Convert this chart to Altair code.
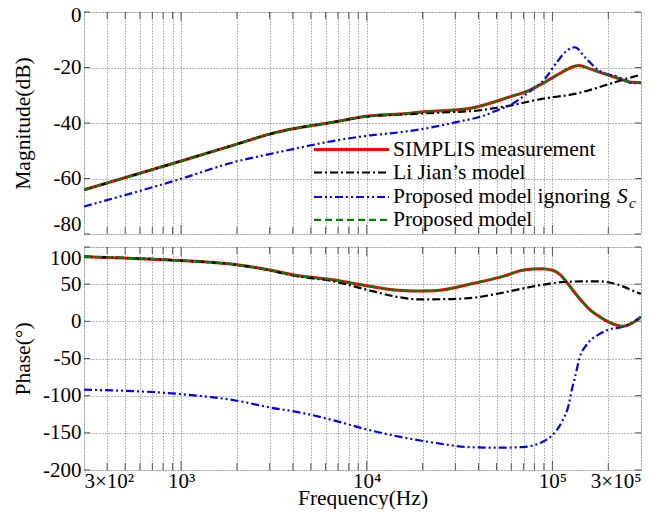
import altair as alt
import pandas as pd

# ---------------- data ----------------
legend_labels = ["SIMPLIS measurement", "Li Jian\u2019s model", "Proposed model ignoring", "Proposed model"]
series_colors = ["#ff0000", "#000000", "#0000ff", "#008000"]

# Magnitude (dB)
mag_simplis_f = [300, 1000, 2000, 3000, 4000, 6450, 10000, 14800, 22300, 25300, 38100, 58200, 74600,
                 91000, 112500, 125000, 138800, 155000, 169400, 217200, 268000, 300000]
mag_simplis_v = [-64.1, -53.7, -47.6, -44.0, -42.1, -39.8, -37.6, -36.8, -35.8, -35.6, -34.4, -30.7, -28.3,
                 -25.3, -21.7, -20.1, -19.3, -20.2, -21.1, -23.5, -25.3, -25.4]

mag_lijian_f = [300, 1000, 2000, 3000, 4000, 6450, 10000, 14800, 25300, 38100, 58200, 87700, 132100,
                201500, 237000, 300000]
mag_lijian_v = [-64.1, -53.7, -47.6, -44.0, -42.1, -39.8, -37.7, -37.0, -36.2, -35.6, -33.8, -31.3, -29.5,
                -26.0, -24.5, -22.6]

mag_nosc_f = [300, 1000, 2000, 3000, 4000, 6450, 10000, 14800, 22300, 31300, 41600, 51400, 58200, 74600,
              91000, 105700, 119700, 132100, 149600, 177900, 228200, 268000, 300000]
mag_nosc_v = [-70.1, -60.1, -53.8, -51.2, -49.4, -46.6, -44.6, -43.4, -41.6, -39.5, -37.6, -35.2, -33.8, -28.9,
              -24.1, -18.1, -13.9, -12.7, -16.3, -21.1, -23.5, -25.6, -25.6]

mag_prop_f = list(mag_simplis_f)
mag_prop_v = list(mag_simplis_v)

# Phase (deg)
ph_simplis_f = [300, 1000, 2000, 3000, 4000, 6700, 10000, 14800, 18000, 23200, 36700, 55400, 70000, 87000,
                100000, 110000, 120000, 132000, 144100, 160000, 177900, 201500, 240000, 268000, 300000]
ph_simplis_v = [87.0, 81.7, 76.0, 69.0, 62.6, 55.5, 47.9, 41.8, 40.8, 41.2, 50.5, 61.2, 69.0, 70.8,
                68.8, 63.0, 52.0, 38.5, 27.0, 15.0, 6.9, -1.0, -6.6, -2.5, 6.0]

ph_lijian_f = [300, 1000, 2000, 3000, 4000, 6700, 10000, 14800, 19000, 28600, 38100, 51400, 77000, 95000,
               127200, 177900, 217200, 237000, 292000, 300000]
ph_lijian_v = [87.0, 81.7, 76.0, 68.5, 61.6, 53.6, 42.5, 32.6, 29.5, 30.0, 32.0, 37.5, 46.5, 50.5,
               53.5, 53.8, 50.5, 47.5, 38.0, 37.0]

ph_nosc_f = [300, 1000, 2000, 3000, 4445, 6700, 10200, 15400, 23200, 35400, 50000, 68400, 87700, 99300,
             112500, 122500, 127200, 132100, 140500, 153400, 177900, 201500, 237000, 268000, 300000]
ph_nosc_v = [-92.0, -97.9, -106.8, -115.8, -123.0, -133.5, -146.0, -155.8, -163.4, -169.2, -170.0, -169.2,
             -162.6, -153.6, -135.0, -112.0, -92.0, -76.0, -48.0, -31.0, -17.6, -11.0, -7.5, -2.0, 6.0]

ph_prop_f = list(ph_simplis_f)
ph_prop_v = list(ph_simplis_v)

# axes
x_label_values = [300, 1000, 10000, 100000, 300000]
x_label_texts = ["3\u00d710\u00b2", "10\u00b3", "10\u2074", "10\u2075", "3\u00d710\u2075"]
x_major_ticks = [1000, 10000, 100000]
x_minor_ticks = [400, 500, 600, 700, 800, 900, 2000, 3000, 4000, 5000, 6000, 7000, 8000, 9000,
                 20000, 30000, 40000, 50000, 60000, 70000, 80000, 90000, 200000]
x_grid_values = [300] + sorted(x_major_ticks + x_minor_ticks) + [300000]
mag_ticks = [-80, -60, -40, -20, 0]
ph_ticks = [-200, -150, -100, -50, 0, 50, 100]

# ---------------- styling ----------------
FONT = "Liberation Serif"
W, H1, H2 = 557, 222, 223
FRAME = "#555555"
GRID = "#707070"
dashes = [None, [8, 3, 2, 3], [8, 3, 2, 3, 2, 3], [7, 4]]
widths = [3.0, 2.2, 2.2, 2.2]

xscale = alt.Scale(type="log", domain=[300, 300000], nice=False)
mag_scale = alt.Scale(domain=[-80, 0], nice=False, zero=False)
ph_scale = alt.Scale(domain=[-200, 100], nice=False, zero=False)

label_expr = " : ".join(f"datum.value == {v} ? '{t}'" for v, t in zip(x_label_values, x_label_texts)) + " : ''"
num_expr = "datum.value < 0 ? '-' + format(-datum.value, 'd') : format(datum.value, 'd')"

x_axis_top = alt.Axis(values=x_grid_values, labels=False, ticks=False, domain=False, title=None,
                      grid=True, gridDash=[1, 2], gridColor=GRID, gridWidth=1, minExtent=0, maxExtent=0)
x_axis_bot = alt.Axis(values=x_grid_values, labelExpr=label_expr, labelFlush=True, labelOverlap=False,
                      ticks=False, domain=False, grid=True, gridDash=[1, 2], gridColor=GRID, gridWidth=1,
                      labelFont=FONT, labelFontSize=21, labelColor="black", labelPadding=0,
                      title="Frequency(Hz)", titleFont=FONT, titleFontSize=21.5, titleFontWeight="normal",
                      titleColor="black", titlePadding=3, maxExtent=14, minExtent=14)


def y_axis(vals, title, baseline=None, offset=None):
    kw = dict(values=vals, labelExpr=num_expr, ticks=False, domain=False, grid=True, gridDash=[1, 2],
              gridColor=GRID, gridWidth=1, labelFont=FONT, labelFontSize=21, labelColor="black",
              labelPadding=3, title=title, titleFont=FONT, titleFontSize=21.5, titleFontWeight="normal",
              titleColor="black", titlePadding=10, minExtent=40, maxExtent=40, labelOverlap=False)
    if baseline is not None:
        kw["labelBaseline"] = baseline
    if offset is not None:
        kw["labelOffset"] = offset
    return alt.Axis(**kw)


def line_layers(fs, vs, yscale, xaxis, yaxis):
    out = []
    for f, v, c, d, w in zip(fs, vs, series_colors, dashes, widths):
        df = pd.DataFrame({"freq": f, "val": v})
        mk = dict(color=c, strokeWidth=w, interpolate="monotone", clip=True)
        if d:
            mk["strokeDash"] = d
        out.append(alt.Chart(df).mark_line(**mk).encode(
            x=alt.X("freq:Q", scale=xscale, axis=xaxis),
            y=alt.Y("val:Q", scale=yscale, axis=yaxis)))
    return out


def tick_layers(yscale, yvals, H, xaxis, yaxis):
    out = []
    for vals, L in [(x_major_ticks, 9), (x_minor_ticks, 7)]:
        base = alt.Chart(pd.DataFrame({"freq": vals})).mark_rule(color=FRAME, strokeWidth=1)
        xenc = alt.X("freq:Q", scale=xscale, axis=xaxis)
        out.append(base.encode(x=xenc, y=alt.value(0), y2=alt.value(L)))
        out.append(base.encode(x=xenc, y=alt.value(H), y2=alt.value(H - L)))
    base = alt.Chart(pd.DataFrame({"val": yvals})).mark_rule(color=FRAME, strokeWidth=1)
    yenc = alt.Y("val:Q", scale=yscale, axis=yaxis)
    out.append(base.encode(y=yenc, x=alt.value(0), x2=alt.value(6)))
    out.append(base.encode(y=yenc, x=alt.value(W - 6), x2=alt.value(W)))
    return out


def legend_layers():
    out = []
    rows_y = [137.5, 160.5, 185.0, 207.8]
    for lab, c, d, w, ly in zip(legend_labels, series_colors, dashes, widths, rows_y):
        df = pd.DataFrame({"label": [lab]})
        mk = dict(color=c, strokeWidth=w)
        if d:
            mk["strokeDash"] = d
        out.append(alt.Chart(df).mark_rule(**mk).encode(
            x=alt.value(230), x2=alt.value(305), y=alt.value(ly)))
        out.append(alt.Chart(df).mark_text(align="left", baseline="middle", font=FONT, fontSize=21.5,
                                           color="black").encode(
            x=alt.value(309), y=alt.value(ly), text="label:N"))
    ly = rows_y[2]
    df = pd.DataFrame({"label": ["S"]})
    out.append(alt.Chart(df).mark_text(align="left", baseline="middle", font=FONT, fontSize=21.5,
                                       fontStyle="italic", color="black").encode(
        x=alt.value(533), y=alt.value(ly), text="label:N"))
    df = pd.DataFrame({"label": ["c"]})
    out.append(alt.Chart(df).mark_text(align="left", baseline="middle", font=FONT, fontSize=15,
                                       fontStyle="italic", color="black").encode(
        x=alt.value(545), y=alt.value(ly + 6), text="label:N"))
    return out


mag_axis = y_axis(mag_ticks, "Magnitude(dB)",
                  {"condition": {"test": "datum.value == -80", "value": "bottom"}, "value": "middle"},
                  {"condition": {"test": "datum.value == 0", "value": 3}, "value": 0})
ph_axis = y_axis(ph_ticks, "Phase(\u00b0)",
                 {"condition": {"test": "datum.value == 100", "value": "top"}, "value": "middle"})

top = alt.layer(
    *line_layers([mag_simplis_f, mag_lijian_f, mag_nosc_f, mag_prop_f],
                 [mag_simplis_v, mag_lijian_v, mag_nosc_v, mag_prop_v],
                 mag_scale, x_axis_top, mag_axis),
    *tick_layers(mag_scale, mag_ticks, H1, x_axis_top, mag_axis),
    *legend_layers(),
).properties(width=W, height=H1)

bottom = alt.layer(
    *line_layers([ph_simplis_f, ph_lijian_f, ph_nosc_f, ph_prop_f],
                 [ph_simplis_v, ph_lijian_v, ph_nosc_v, ph_prop_v],
                 ph_scale, x_axis_bot, ph_axis),
    *tick_layers(ph_scale, ph_ticks, H2, x_axis_bot, ph_axis),
).properties(width=W, height=H2)

chart = alt.vconcat(top, bottom, spacing=11).properties(
    padding={"left": 3, "top": -5, "right": 5, "bottom": 0}
).configure_view(stroke=FRAME, strokeWidth=1).configure(background="white")

chart.save("out.html", embed_options={"renderer": "svg", "actions": False})
